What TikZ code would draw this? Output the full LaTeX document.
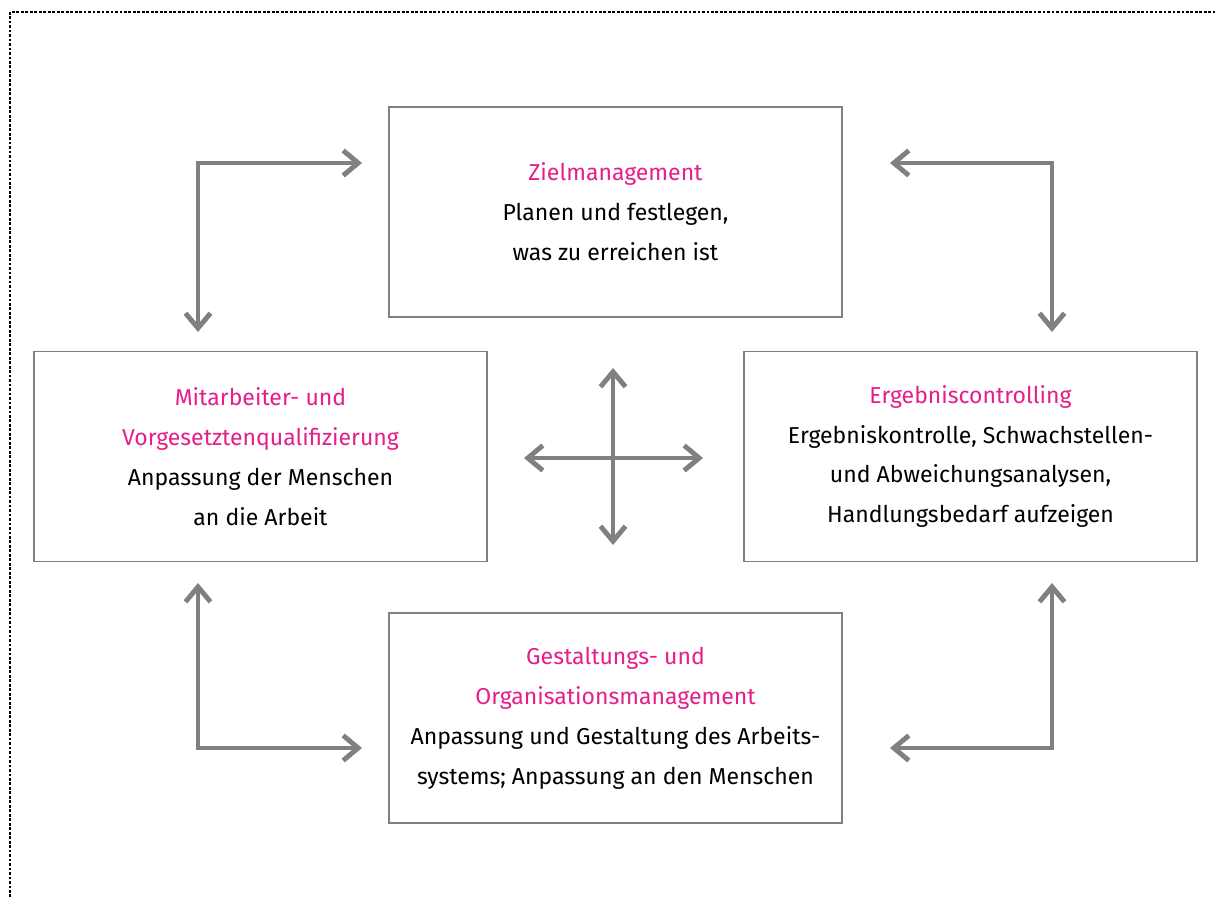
\documentclass[tikz,border=0pt]{standalone}
\usepackage{fontspec}
\setmainfont{Fira Sans}
\usetikzlibrary{arrows.meta}
\definecolor{kreispink}{RGB}{228,30,138}
\definecolor{kreisgrau}{RGB}{128,128,128}
\tikzset{
	kasten/.style={draw=kreisgrau,line width=0.9pt,minimum width=9.06cm,minimum height=4.2cm,inner sep=0pt,align=center,font=\fontsize{13.1}{22.7}\selectfont},
	pfeil/.style={draw=kreisgrau,line width=2.8pt,{Straight Barb[length=3mm,width=5mm]}-{Straight Barb[length=3mm,width=5mm]}}
}
\begin{document}
\begin{tikzpicture}[line cap=rect,line join=miter,x=1.0cm,y=1.0cm]
			\useasboundingbox (0,0) rectangle (24.3,-17.98);
			\draw [line width=0.8pt,dash pattern=on 0.8pt off 1.75pt] (24.3,-0.24)-- (0.2,-0.24)-- (0.2,-17.98);
			%% die vier Kaesten
			\node[kasten] (ziel) at (12.31,-4.24) {\textcolor{kreispink}{Zielmanagement}\\Planen und festlegen,\\was zu erreichen ist};
			\node[kasten] (quali) at (5.21,-9.13) {\textcolor{kreispink}{Mitarbeiter- und}\\\textcolor{kreispink}{Vorgesetztenqualifizierung}\\Anpassung der Menschen\\an die Arbeit};
			\node[kasten] (ergebnis) at (19.41,-9.13) {\textcolor{kreispink}{Ergebniscontrolling}\\Ergebniskontrolle, Schwachstellen-\\und Abweichungsanalysen,\\Handlungsbedarf aufzeigen};
			\node[kasten] (gestaltung) at (12.31,-14.36) {\textcolor{kreispink}{Gestaltungs- und}\\\textcolor{kreispink}{Organisationsmanagement}\\Anpassung und Gestaltung des Arbeits-\\systems; Anpassung an den Menschen};
			%% Pfeilenden
			\coordinate (ol1) at (3.96,-6.64);
			\coordinate (ol2) at (7.24,-3.26);
			\coordinate (or1) at (17.8,-3.26);
			\coordinate (or2) at (21.04,-6.64);
			\coordinate (ul1) at (3.96,-11.66);
			\coordinate (ul2) at (7.24,-14.96);
			\coordinate (ur1) at (17.8,-14.96);
			\coordinate (ur2) at (21.04,-11.66);
			\coordinate (mo) at (12.26,-7.36);
			\coordinate (mu) at (12.26,-10.9);
			\coordinate (ml) at (10.48,-9.16);
			\coordinate (mr) at (14.06,-9.16);
			\draw [pfeil] (ol1) |- (ol2);
			\draw [pfeil] (or1) -| (or2);
			\draw [pfeil] (ul1) |- (ul2);
			\draw [pfeil] (ur1) -| (ur2);
			\draw [pfeil] (mo) -- (mu);
			\draw [pfeil] (ml) -- (mr);
		\end{tikzpicture}
\end{document}
